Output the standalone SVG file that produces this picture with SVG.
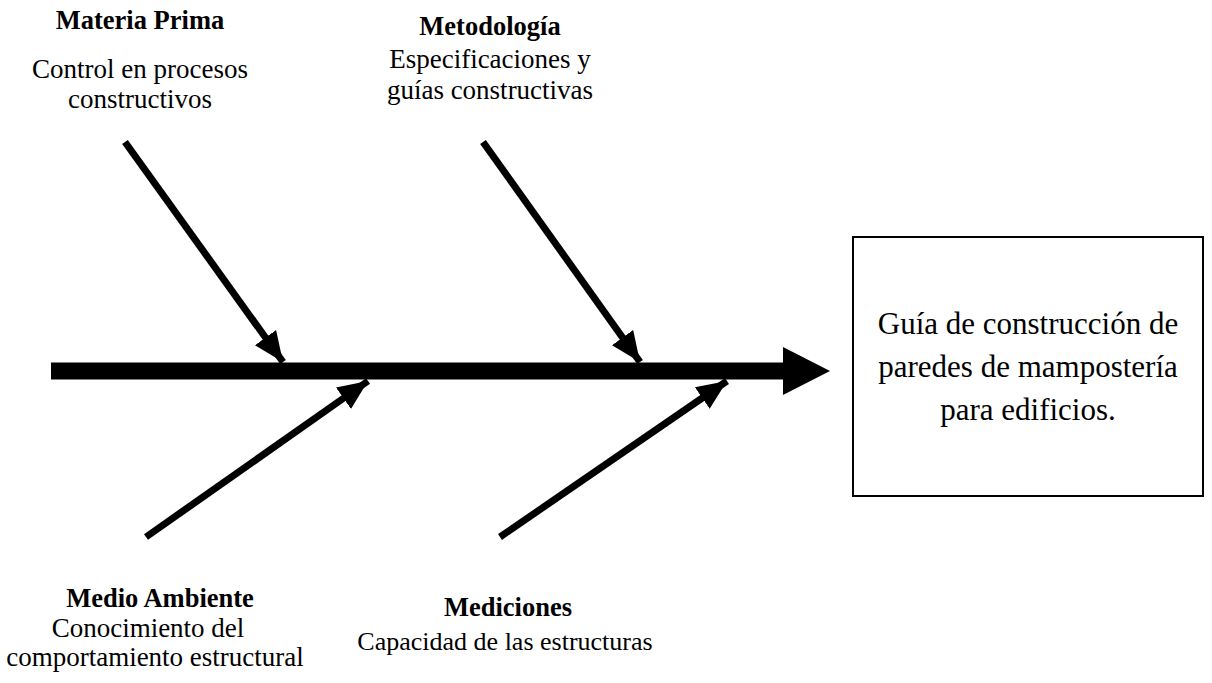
<svg xmlns="http://www.w3.org/2000/svg" width="1212" height="683" viewBox="0 0 1212 683">
<style>
.t{font-family:"Liberation Serif","Times New Roman",serif;fill:#000;text-anchor:middle}
.h{font-size:26.5px;font-weight:bold}
.s{font-size:27px}
.b{font-size:31px}
.bone{stroke:#000;stroke-width:7;fill:none}
</style>
<defs>
<marker id="ah" markerUnits="userSpaceOnUse" markerWidth="40" markerHeight="40" refX="30" refY="15" orient="auto">
<path d="M0,2 L30,15 L0,28 Z" fill="#000"/>
</marker>
</defs>
<rect width="1212" height="683" fill="#fff"/>
<g id="connectors">
<line x1="51" y1="371" x2="790" y2="371" stroke="#000" stroke-width="17"/>
<path d="M783,347 L830,371 L783,395 Z" fill="#000"/>
<line class="bone" x1="125" y1="142" x2="283" y2="362" marker-end="url(#ah)"/>
<line class="bone" x1="483" y1="142" x2="640" y2="362" marker-end="url(#ah)"/>
<line class="bone" x1="146" y1="537" x2="368" y2="381" marker-end="url(#ah)"/>
<line class="bone" x1="500" y1="537" x2="727" y2="381" marker-end="url(#ah)"/>
</g>
<g id="materia-prima">
<text class="t h" x="140" y="29">Materia Prima</text>
<text class="t s" x="140" y="78">Control en procesos</text>
<text class="t s" x="140" y="108">constructivos</text>
</g>
<g id="metodologia">
<text class="t h" x="490" y="35">Metodología</text>
<text class="t s" x="490" y="68">Especificaciones y</text>
<text class="t s" x="490" y="99">guías constructivas</text>
</g>
<g id="medio-ambiente">
<text class="t h" x="160" y="607">Medio Ambiente</text>
<text class="t s" x="148" y="637">Conocimiento del</text>
<text class="t s" x="155" y="666">comportamiento estructural</text>
</g>
<g id="mediciones">
<text class="t h" x="508" y="616">Mediciones</text>
<text class="t s" x="505" y="650" style="font-size:26px">Capacidad de las estructuras</text>
</g>
<g id="efecto">
<rect x="853" y="237" width="350" height="259" fill="#fff" stroke="#000" stroke-width="2"/>
<text class="t b" x="1028" y="334">Guía de construcción de</text>
<text class="t b" x="1028" y="377">paredes de mampostería</text>
<text class="t b" x="1028" y="420">para edificios.</text>
</g>
</svg>
